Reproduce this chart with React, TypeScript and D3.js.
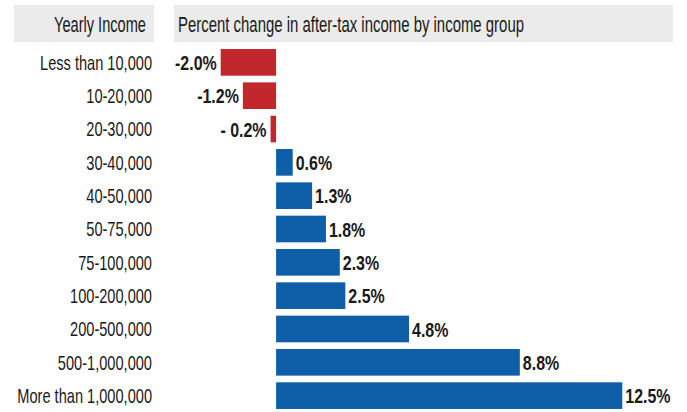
import React from "react";
import * as d3 from "d3";

const categories = [
  "Less than 10,000",
  "10-20,000",
  "20-30,000",
  "30-40,000",
  "40-50,000",
  "50-75,000",
  "75-100,000",
  "100-200,000",
  "200-500,000",
  "500-1,000,000",
  "More than 1,000,000",
];
const values = [-2.0, -1.2, -0.2, 0.6, 1.3, 1.8, 2.3, 2.5, 4.8, 8.8, 12.5];
const valueLabels = ["-2.0%", "-1.2%", "- 0.2%", "0.6%", "1.3%", "1.8%", "2.3%", "2.5%", "4.8%", "8.8%", "12.5%"];
const leftHeader = "Yearly Income";
const rightHeader = "Percent change in after-tax income by income group";

const W = 687;
const H = 412;
const FONT = "'Liberation Sans', Arial, sans-serif";
const RED = "#c1272d";
const BLUE = "#0f5fa8";
const CAT_SX = 0.73;
const VAL_SX = 0.76;

export default function App() {
  const y = d3
    .scaleBand<string>()
    .domain(categories)
    .range([45.7, 412.3])
    .paddingInner(0.2)
    .paddingOuter(0.1);
  const x = d3.scaleLinear().domain([-2, 12.5]).range([220.7, 622.3]);
  const x0 = x(0);

  return (
    <svg
      width={W}
      height={H}
      viewBox={`0 0 ${W} ${H}`}
      style={{ position: "absolute", left: 0, top: 0, background: "#fff" }}
      fontFamily={FONT}
    >
      <rect x={0} y={0} width={W} height={H} fill="#fff" />
      <rect x={14} y={5} width={140} height={37} fill="#ebebeb" />
      <rect x={174} y={5} width={499} height={37} fill="#ebebeb" />
      <text x={54} y={31.5} fontSize={21.5} fill="#1a1a1a" textLength={92} lengthAdjust="spacingAndGlyphs">
        {leftHeader}
      </text>
      <text x={178} y={31.5} fontSize={21.5} fill="#1a1a1a" textLength={346} lengthAdjust="spacingAndGlyphs">
        {rightHeader}
      </text>
      {categories.map((c, i) => {
        const v = values[i];
        const by = y(c)!;
        const bh = y.bandwidth();
        const cy = by + bh / 2;
        const bx = Math.min(x(v), x0);
        const bw = Math.abs(x(v) - x0);
        const neg = v < 0;
        const lx = neg ? bx - 4 : bx + bw + 3;
        return (
          <g key={c}>
            <g transform={`translate(152,${cy}) scale(${CAT_SX},1)`}>
              <text x={0} y={0} dy="0.36em" textAnchor="end" fontSize={20} fill="#1a1a1a">
                {c}
              </text>
            </g>
            <rect x={bx} y={by} width={bw} height={bh} fill={neg ? RED : BLUE} />
            <g transform={`translate(${lx},${cy}) scale(${VAL_SX},1)`}>
              <text
                x={0}
                y={0}
                dy="0.36em"
                textAnchor={neg ? "end" : "start"}
                fontSize={21}
                fontWeight="bold"
                fill="#1a1a1a"
              >
                {valueLabels[i]}
              </text>
            </g>
          </g>
        );
      })}
    </svg>
  );
}
